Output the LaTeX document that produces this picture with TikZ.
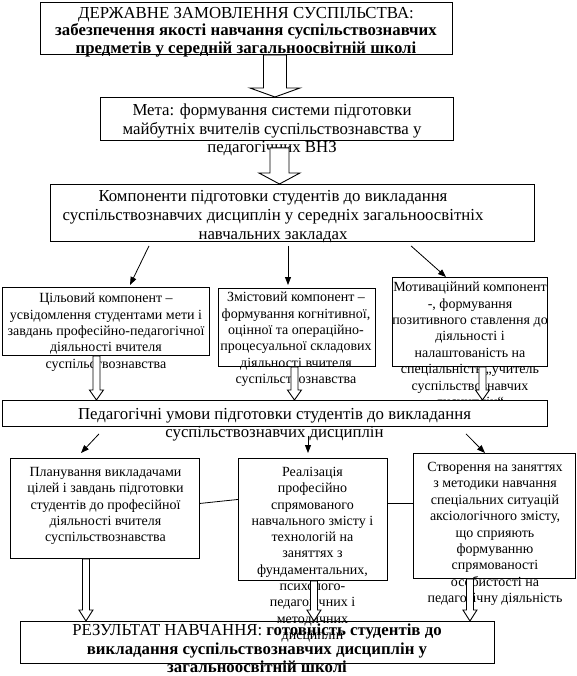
\documentclass[tikz,border=0pt]{standalone}
\usepackage{fontspec}
\setmainfont{Liberation Serif}
\usetikzlibrary{arrows.meta,calc}

% block arrow pointing down: start, node whose y gives the tip, shaft half, head half, head length
\newcommand{\hollowarr}[5]{%
  \draw[hollow] let \p1=#1, \p2=#2 in
    ({\x1-#3},\y1) -- ({\x1-#3},{\y2+#5}) -- ({\x1-#4},{\y2+#5}) -- (\x1,\y2)
    -- ({\x1+#4},{\y2+#5}) -- ({\x1+#3},{\y2+#5}) -- ({\x1+#3},\y1) -- cycle;}

\begin{document}
\begin{tikzpicture}[x=1pt, y=-1pt,
    box/.style={draw, line width=0.9pt, anchor=north west, inner sep=0pt},
    bigtxt/.style={align=center, anchor=north, inner sep=0pt, font=\fontsize{16.8}{18.5}\selectfont},
    smalltxt/.style={align=center, anchor=north, inner sep=0pt, font=\fontsize{14}{16.4}\selectfont},
    thinarrow/.style={-{Triangle[length=8pt,width=6pt]}, line width=0.8pt},
    hollow/.style={draw, fill=white, line width=0.9pt, line join=miter}
  ]
    \useasboundingbox (0,0) rectangle (576,676);

    % boxes
    \node[box, minimum width=412pt, minimum height=52pt] (zamov) at (40,2) {};
    \node[box, minimum width=353pt, minimum height=43pt] (meta) at (100,97) {};
    \node[box, minimum width=484pt, minimum height=57pt] (komp) at (50,184) {};
    \node[box, minimum width=207pt, minimum height=68pt] (cil) at (2,287) {};
    \node[box, minimum width=157pt, minimum height=78pt] (zmist) at (218,288) {};
    \node[box, minimum width=155pt, minimum height=89pt] (motyv) at (392,277) {};
    \node[box, minimum width=189pt, minimum height=100pt] (plan) at (10,458) {};
    \node[box, minimum width=149pt, minimum height=122pt] (real) at (238,458) {};
    \node[box, minimum width=162pt, minimum height=125pt] (stvor) at (413,453) {};
    \node[box, minimum width=474pt, minimum height=42pt] (rezult) at (20,621) {};

    % texts
    \node[bigtxt, font=\fontsize{16.8}{17.5}\selectfont] (zamovtxt) at (246,7)
      {ДЕРЖАВНЕ ЗАМОВЛЕННЯ СУСПІЛЬСТВА:\\
       \textbf{забезпечення якості навчання суспільствознавчих}\\
       \textbf{предметів у середній загальноосвітній школі}};
    \node[bigtxt] (metatxt) at (272,104)
      {Мета: формування системи підготовки\\майбутніх вчителів суспільствознавства у\\педагогічних ВНЗ};
    \node[bigtxt, font=\fontsize{16.8}{19}\selectfont] (komptxt) at (273,190)
      {Компоненти підготовки студентів до викладання\\суспільствознавчих дисциплін у середніх загальноосвітніх\\навчальних закладах};
    \node[smalltxt] (ciltxt) at (106,293)
      {Цільовий компонент –\\усвідомлення студентами мети і\\завдань професійно-педагогічної\\діяльності вчителя\\суспільствознавства};
    \node[smalltxt] (zmisttxt) at (296,292)
      {Змістовий компонент –\\формування когнітивної,\\оцінної та операційно-\\процесуальної складових\\діяльності вчителя\\суспільствознавства};
    \node[smalltxt, font=\fontsize{14}{16.4}\selectfont] (motyvtxt) at (470,282)
      {Мотиваційний компонент\\-, формування\\позитивного ставлення до\\діяльності і\\налаштованість на\\спеціальність „учитель\\суспільствознавчих\\дисциплін“};

    % block arrows of the upper part
    \hollowarr{([xshift=28.5pt]zamov.south)}{(meta.north)}{11.5pt}{25pt}{9pt}
    \hollowarr{([xshift=2.5pt,yshift=-7pt]meta.south)}{(komp.north)}{9.5pt}{20.5pt}{11pt}

    \draw[thinarrow] ([xshift=99pt,yshift=-4pt]komp.south west) -- ([xshift=128pt,yshift=2pt]cil.north west);
    \draw[thinarrow] ([xshift=238pt,yshift=-4pt]komp.south west) -- ([xshift=70pt,yshift=3pt]zmist.north west);
    \draw[thinarrow] ([xshift=361pt,yshift=-4pt]komp.south west) -- ([xshift=54pt]motyv.north west);

    \node[box, fill=white, minimum width=545pt, minimum height=26pt] (umovy) at (2,400) {};
    \hollowarr{([xshift=-9.5pt]cil.south)}{(umovy.north)}{3.5pt}{7pt}{10pt}
    \hollowarr{([xshift=-2.5pt]zmist.south)}{(umovy.north)}{3.5pt}{7pt}{10pt}
    \hollowarr{([xshift=12.5pt]motyv.south)}{(umovy.north)}{3.5pt}{7pt}{10pt}
    \node[bigtxt] (umovytxt) at (274.5,408)
      {Педагогічні умови підготовки студентів до викладання\\суспільствознавчих дисциплін};

    \draw[thinarrow] ([xshift=97pt,yshift=-7pt]umovy.south west) -- ([xshift=71pt,yshift=5pt]plan.north west);
    \draw[thinarrow] ([xshift=306pt,yshift=-9pt]umovy.south west) -- ([xshift=70pt,yshift=5pt]real.north west);
    \draw[thinarrow] ([xshift=464pt,yshift=-7pt]umovy.south west) -- ([xshift=72pt]stvor.north west);

    \node[smalltxt] (plantxt) at (105.5,467)
      {Планування викладачами\\цілей і завдань підготовки\\студентів до професійної\\діяльності вчителя\\суспільствознавства};
    \node[smalltxt, font=\fontsize{14}{16.3}\selectfont] (realtxt) at (312.5,467)
      {Реалізація\\професійно\\спрямованого\\навчального змісту і\\технологій на\\заняттях з\\фундаментальних,\\психолого-\\педагогічних і\\методичних\\дисциплін};
    \node[smalltxt] (stvortxt) at (495,462)
      {Створення на заняттях\\з методики навчання\\спеціальних ситуацій\\аксіологічного змісту,\\що сприяють\\формуванню\\спрямованості\\особистості на\\педагогічну діяльність};

    \draw[line width=0.8pt] ([yshift=5pt]plan.east) -- ([yshift=20pt]real.west);
    \draw[line width=0.8pt] ([yshift=16pt]real.east) -- ([yshift=12.5pt]stvor.west);

    % block arrows to the result
    \hollowarr{([xshift=-19pt]plan.south)}{(rezult.north)}{3.5pt}{7pt}{11pt}
    \hollowarr{([xshift=1pt]real.south)}{(rezult.north)}{3.5pt}{7pt}{11pt}
    \hollowarr{([xshift=-24.5pt]stvor.south)}{(rezult.north)}{3.5pt}{7pt}{11pt}

    \node[bigtxt] (rezulttxt) at (257,624)
      {РЕЗУЛЬТАТ НАВЧАННЯ: \textbf{готовність студентів до}\\
       \textbf{викладання суспільствознавчих дисциплін у}\\
       \textbf{загальноосвітній школі}};
  \end{tikzpicture}
\end{document}
